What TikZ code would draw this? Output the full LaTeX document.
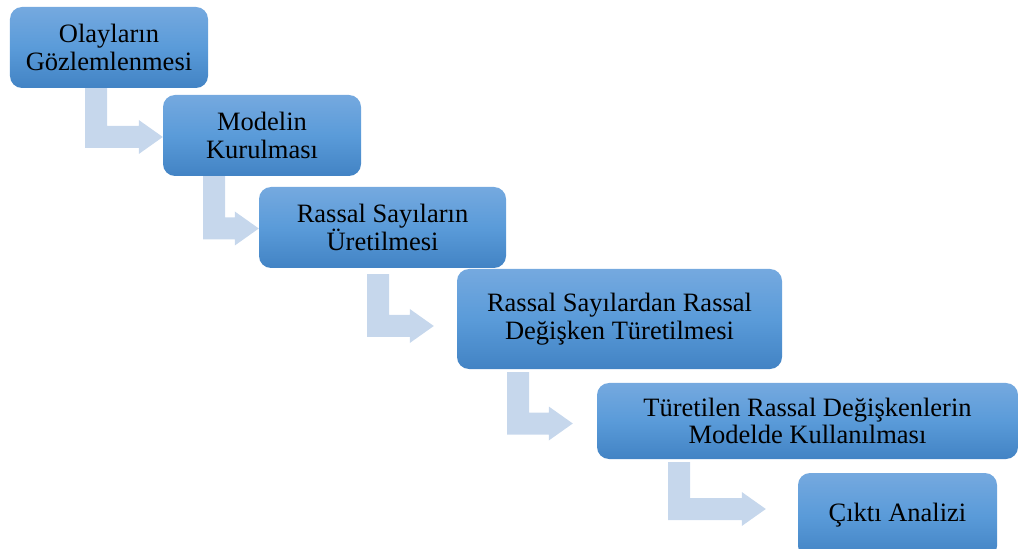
\documentclass[tikz,border=0pt]{standalone}
\usepackage{fontspec}
\setmainfont{Liberation Serif}
\usetikzlibrary{calc,backgrounds}
\definecolor{boxtop}{HTML}{75A9DF}
\definecolor{boxmid}{HTML}{5A9BD9}
\definecolor{boxbot}{HTML}{4283C4}
\definecolor{arrcol}{HTML}{C6D7EC}
\tikzset{
  stepbox/.style={rounded corners=12bp, top color=boxtop, bottom color=boxbot,
    middle color=boxmid, draw=none, text=black, align=center, inner sep=0pt,
    font=\fontsize{26.6}{27.5}\selectfont},
  arrowfill/.style={fill=arrcol, draw=none}
}
\newcommand{\bentarrow}[6]{%
  \fill[arrowfill] let \p1=(#1.south), \p2=(#2.west) in
   ({#3bp},{\y1-(#4)*1bp}) -- ({#3bp+22bp},{\y1-(#4)*1bp})
   -- ({#3bp+22bp},{\y2-(#5)*1bp+11bp}) -- ({\x2-(#6)*1bp-24bp},{\y2-(#5)*1bp+11bp})
   -- ({\x2-(#6)*1bp-24bp},{\y2-(#5)*1bp+17bp}) -- ({\x2-(#6)*1bp},{\y2-(#5)*1bp})
   -- ({\x2-(#6)*1bp-24bp},{\y2-(#5)*1bp-17bp}) -- ({\x2-(#6)*1bp-24bp},{\y2-(#5)*1bp-11bp})
   -- ({#3bp},{\y2-(#5)*1bp-11bp}) -- cycle;}
\begin{document}
\begin{tikzpicture}[x=1bp,y=-1bp]
\useasboundingbox (0,0) rectangle (1019,549);
\node[stepbox, minimum width=198bp, minimum height=81bp] (n1) at (109,47.5) {Olayların\\Gözlemlenmesi};
\node[stepbox, minimum width=198bp, minimum height=81bp] (n2) at (262,135.5) {Modelin\\Kurulması};
\node[stepbox, minimum width=247bp, minimum height=81bp] (n3) at (382.5,227.5) {Rassal Sayıların\\Üretilmesi};
\node[stepbox, minimum width=325bp, minimum height=100bp] (n4) at (619.5,319) {Rassal Sayılardan Rassal\\Değişken Türetilmesi};
\node[stepbox, minimum width=421bp, minimum height=76bp] (n5) at (807.5,421) {Türetilen Rassal Değişkenlerin\\Modelde Kullanılması};
\node[stepbox, minimum width=199bp, minimum height=85bp] (n6) at (897.5,515.5) {Çıktı Analizi};
\begin{pgfonlayer}{background}
\bentarrow{n1}{n2}{85}{0}{1.5}{0}
\bentarrow{n2}{n3}{203}{0}{1}{0}
\bentarrow{n3}{n4}{367}{6}{7}{23}
\bentarrow{n4}{n5}{507}{3}{2.5}{24}
\bentarrow{n5}{n6}{668}{3}{-6.5}{32}
\end{pgfonlayer}
\end{tikzpicture}
\end{document}
